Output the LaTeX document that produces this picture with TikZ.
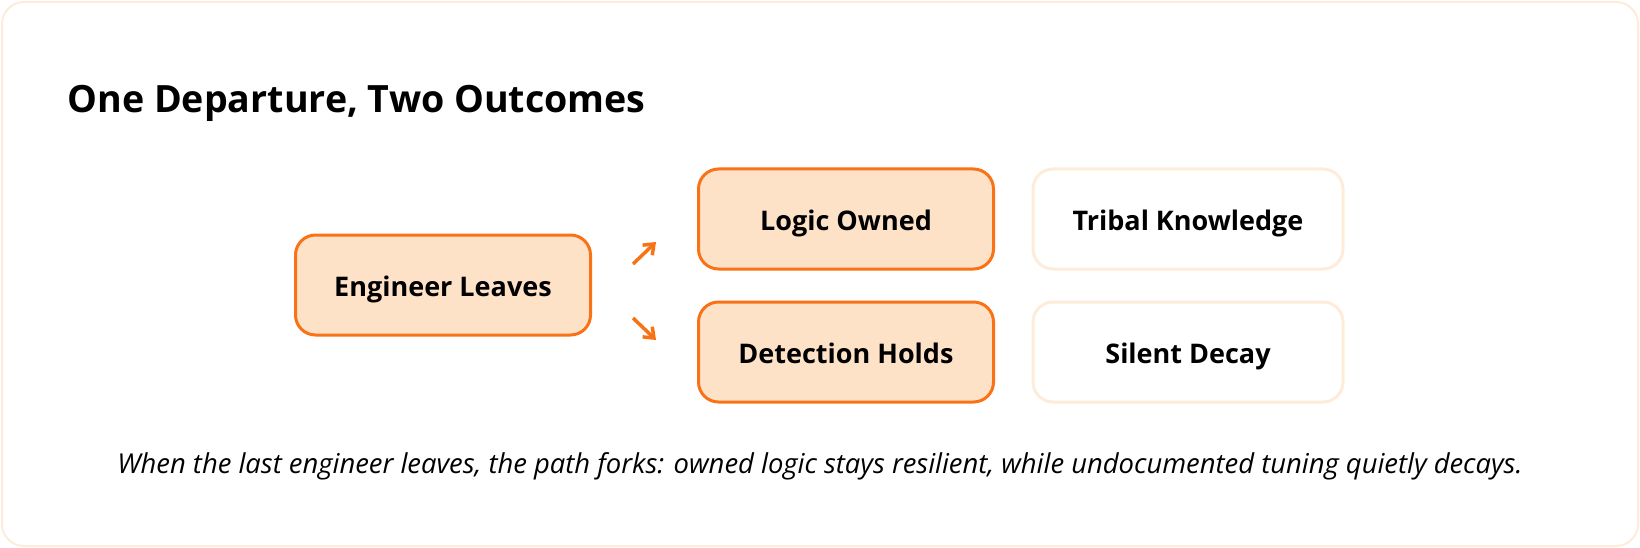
\documentclass[tikz,border=0pt]{standalone}
\usepackage{fontspec}
\setmainfont{Open Sans}
\usepackage{xcolor}
\usetikzlibrary{arrows.meta,positioning}

\definecolor{forkorange}{RGB}{249,115,22}
\definecolor{forkpeach}{RGB}{254,226,200}
\definecolor{forkpale}{RGB}{254,236,218}

\tikzset{
  heldbox/.style={draw=forkorange, line width=3pt, fill=forkpeach, rounded corners=20pt,
    minimum width=295pt, minimum height=100pt, align=center, text height=26pt, text depth=3pt,
    font=\fontsize{27}{32}\selectfont\bfseries},
  lostbox/.style={heldbox, draw=forkpale, fill=white, minimum width=310pt},
  forkarrow/.style={draw=forkorange, line width=3.5pt, -{Straight Barb[length=9pt,width=14pt]}}
}

\begin{document}
\begin{tikzpicture}[x=1pt, y=-1pt]
\useasboundingbox (0,0) rectangle (1640,548);
% Frame
\draw[forkpale, line width=2pt, rounded corners=22pt] (2,2) rectangle (1638,546);

% Title
\node[anchor=west, font=\fontsize{37.6}{44}\selectfont\bfseries] (title) at (64,103) {One Departure, Two Outcomes};

% Boxes
\node[heldbox] (leaves) at (443,285) {Engineer Leaves};
\node[heldbox] (owned) at (846,219) {Logic Owned};
\node[heldbox] (holds) at (846,352) {Detection Holds};
\node[lostbox] (tribal) at (1188,219) {Tribal Knowledge};
\node[lostbox] (decay) at (1188,352) {Silent Decay};

% Fork arrows
\coordinate (upfrom) at (633,264);
\coordinate (upto) at (656,242);
\coordinate (downfrom) at (633,318);
\coordinate (downto) at (656,340);
\draw[forkarrow] (upfrom) -- (upto);
\draw[forkarrow] (downfrom) -- (downto);

% Caption
\node[font=\fontsize{27.4}{32}\selectfont\itshape] (caption) at (820,466)
  {When the last engineer leaves, the path forks: owned logic stays resilient, while undocumented tuning quietly decays.};
\end{tikzpicture}
\end{document}
